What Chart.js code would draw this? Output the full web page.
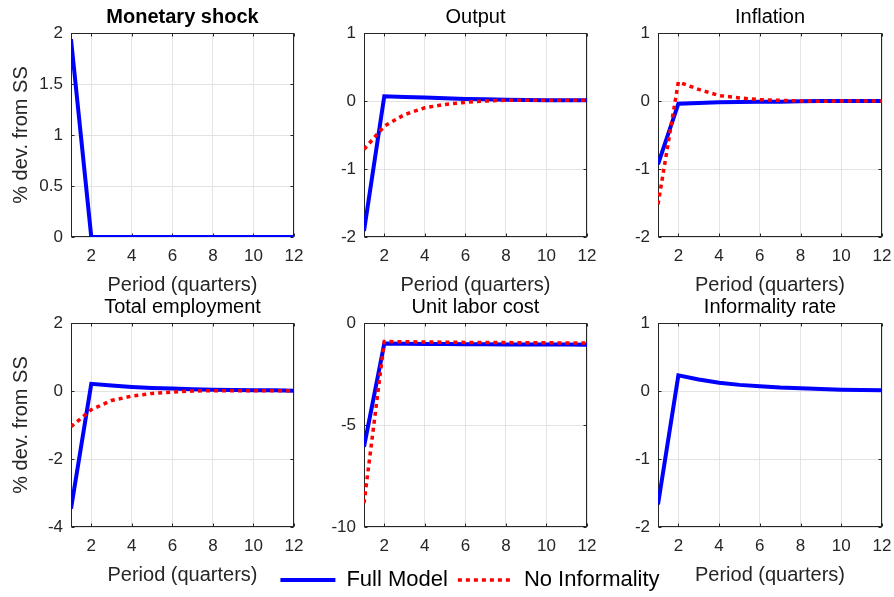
<!DOCTYPE html>
<html>
<head>
<meta charset="utf-8">
<script src="https://cdn.jsdelivr.net/npm/chart.js@4.4.0/dist/chart.umd.min.js"></script>
<style>
  html, body { margin: 0; padding: 0; background: #fff; overflow: hidden; }
  #wrap { position: relative; width: 894px; height: 597px; overflow: hidden; background: #fff; }
  .panel { position: absolute; }
</style>
</head>
<body>
<div id="wrap"></div>
<script>
// Периоды и подписи осей
const periods = [1, 2, 3, 4, 5, 6, 7, 8, 9, 10, 11, 12];
const xTicks = [2, 4, 6, 8, 10, 12];

// Monetary shock
const shockFull = [1.94, 0, 0, 0, 0, 0, 0, 0, 0, 0, 0, 0];
const shockTicks = [0, 0.5, 1, 1.5, 2];

// Output
const outputFull = [-1.91, 0.07, 0.06, 0.05, 0.04, 0.03, 0.025, 0.02, 0.015, 0.01, 0.01, 0.01];
const outputNoInf = [-0.71, -0.37, -0.20, -0.10, -0.05, -0.02, 0.0, 0.01, 0.01, 0.01, 0.01, 0.01];
const outputTicks = [-2, -1, 0, 1];

// Inflation
const inflFull = [-0.93, -0.04, -0.03, -0.02, -0.015, -0.01, -0.01, -0.005, 0, 0, 0, 0];
const inflNoInf = [-1.52, 0.28, 0.17, 0.08, 0.045, 0.02, 0.01, 0.0, -0.005, 0, 0, 0];
const inflTicks = [-2, -1, 0, 1];

// Total employment
const emplFull = [-3.46, 0.21, 0.16, 0.12, 0.09, 0.07, 0.05, 0.04, 0.03, 0.02, 0.02, 0.01];
const emplNoInf = [-1.05, -0.55, -0.28, -0.15, -0.07, -0.03, 0.0, 0.01, 0.01, 0.01, 0.01, 0.01];
const emplTicks = [-4, -2, 0, 2];

// Unit labor cost
const ulcFull = [-6.07, -1.01, -1.02, -1.03, -1.03, -1.04, -1.04, -1.05, -1.05, -1.06, -1.06, -1.07];
const ulcNoInf = [-8.83, -0.91, -0.92, -0.93, -0.94, -0.95, -0.96, -0.96, -0.97, -0.97, -0.98, -0.98];
const ulcTicks = [-10, -5, 0];

// Informality rate
const informFull = [-1.67, 0.23, 0.17, 0.12, 0.09, 0.07, 0.05, 0.04, 0.03, 0.02, 0.015, 0.01];
const informTicks = [-2, -1, 0, 1];

const seriesNames = ['Full Model', 'No Informality'];

// Стиль
const FONT = "'Liberation Sans', Arial, Helvetica, sans-serif";
const INK = '#262626';
const GRID = '#e3e3e3';
const BLUE = '#0000ff';
const RED = '#ff0000';

// Рамка осей и внутренние засечки (как в MATLAB)
const boxPlugin = {
    id: 'axesBox',
    beforeDatasetsDraw(chart) {
        const { ctx, chartArea: a, scales } = chart;
        const x = scales.x, y = scales.y;
        const l = Math.round(a.left) + 0.5, r = Math.round(a.right) - 0.5;
        const t = Math.round(a.top) + 0.5, b = Math.round(a.bottom) - 0.5;
        ctx.save();
        ctx.strokeStyle = INK;
        ctx.lineWidth = 1;
        ctx.strokeRect(l, t, r - l, b - t);
        ctx.beginPath();
        x.ticks.forEach(tk => {
            const px = Math.round(x.getPixelForValue(tk.value)) + 0.5;
            ctx.moveTo(px, b); ctx.lineTo(px, b - 3);
            ctx.moveTo(px, t); ctx.lineTo(px, t + 3);
        });
        y.ticks.forEach(tk => {
            const py = Math.round(y.getPixelForValue(tk.value)) + 0.5;
            ctx.moveTo(l, py); ctx.lineTo(l + 3, py);
            ctx.moveTo(r, py); ctx.lineTo(r - 3, py);
        });
        ctx.stroke();
        ctx.restore();
    }
};

const panels = [
    { title: 'Monetary shock', bold: true, left: 0, top: 0, width: 310, height: 300, yW: 71, rightW: 16,
      yLabel: true, xLabel: true, yMin: 0, yMax: 2, yTicks: shockTicks, full: shockFull, noInf: null },
    { title: 'Output', left: 300, top: 0, width: 310, height: 300, yW: 64, rightW: 23,
      xLabel: true, yMin: -2, yMax: 1, yTicks: outputTicks, full: outputFull, noInf: outputNoInf },
    { title: 'Inflation', left: 590, top: 0, width: 304, height: 300, yW: 68, rightW: 12,
      xLabel: true, yMin: -2, yMax: 1, yTicks: inflTicks, full: inflFull, noInf: inflNoInf },
    { title: 'Total employment', left: 0, top: 290, width: 310, height: 300, yW: 71, rightW: 16,
      yLabel: true, xLabel: true, yMin: -4, yMax: 2, yTicks: emplTicks, full: emplFull, noInf: emplNoInf },
    { title: 'Unit labor cost', left: 250, top: 290, width: 440, height: 311, yW: 114, rightW: 103,
      legend: true, xH: 32, yMin: -10, yMax: 0, yTicks: ulcTicks, full: ulcFull, noInf: ulcNoInf },
    { title: 'Informality rate', left: 590, top: 290, width: 304, height: 300, yW: 68, rightW: 12,
      xLabel: true, yMin: -2, yMax: 1, yTicks: informTicks, full: informFull, noInf: null }
];

function toPoints(values) {
    return periods.map((p, i) => ({ x: p, y: values[i] }));
}

function buildPanel(p, index) {
    const holder = document.createElement('div');
    holder.className = 'panel';
    holder.style.left = p.left + 'px';
    holder.style.top = p.top + 'px';
    const canvas = document.createElement('canvas');
    canvas.width = p.width;
    canvas.height = p.height;
    canvas.style.width = p.width + 'px';
    canvas.style.height = p.height + 'px';
    holder.appendChild(canvas);
    document.getElementById('wrap').appendChild(holder);

    const datasets = [{
        label: seriesNames[0],
        data: toPoints(p.full),
        borderColor: BLUE,
        backgroundColor: BLUE,
        borderWidth: 4,
        pointRadius: 0,
        tension: 0,
        order: 1
    }];
    if (p.noInf) {
        datasets.push({
            label: seriesNames[1],
            data: toPoints(p.noInf),
            borderColor: RED,
            backgroundColor: RED,
            borderWidth: 3.5,
            borderDash: [4, 4],
            pointRadius: 0,
            tension: 0,
            order: 0
        });
    }

    const legendOpts = p.legend ? {
        display: true,
        position: 'bottom',
        align: 'center',
        labels: {
            font: { family: FONT, size: 22 },
            color: '#000',
            usePointStyle: true,
            pointStyleWidth: 55,
            padding: 10,
            generateLabels: chart => chart.data.datasets.map((ds, i) => ({
                text: ds.label,
                fillStyle: ds.borderColor,
                strokeStyle: ds.borderColor,
                lineWidth: ds.borderWidth,
                lineDash: ds.borderDash || [],
                pointStyle: 'line',
                fontColor: '#000',
                hidden: false,
                datasetIndex: i
            }))
        }
    } : { display: false };

    new Chart(canvas, {
        type: 'line',
        data: { datasets: datasets },
        options: {
            responsive: false,
            animation: false,
            devicePixelRatio: 1,
            layout: { padding: 0 },
            plugins: {
                title: {
                    display: true,
                    text: p.title,
                    fullSize: false,
                    color: '#000',
                    font: { family: FONT, size: 20, weight: p.bold ? 'bold' : 'normal', lineHeight: 1.2 },
                    padding: { top: 5, bottom: 4 }
                },
                legend: legendOpts,
                tooltip: { enabled: false }
            },
            scales: {
                x: {
                    type: 'linear',
                    min: 1,
                    max: 12,
                    afterBuildTicks: s => { s.ticks = xTicks.map(v => ({ value: v })); },
                    afterFit: s => {
                        s.height = p.xH || 63;
                        s.paddingLeft = 0;
                        s.paddingRight = 0;
                    },
                    grid: { color: GRID, drawTicks: false },
                    border: { display: false },
                    ticks: {
                        padding: 9,
                        color: INK,
                        font: { family: FONT, size: 17 },
                        maxRotation: 0,
                        autoSkip: false,
                        callback: v => String(v)
                    },
                    title: {
                        display: !!p.xLabel,
                        text: 'Period (quarters)',
                        color: INK,
                        font: { family: FONT, size: 20, lineHeight: 1.2 },
                        padding: { top: 0, bottom: 3 }
                    }
                },
                y: {
                    type: 'linear',
                    min: p.yMin,
                    max: p.yMax,
                    afterBuildTicks: s => { s.ticks = p.yTicks.map(v => ({ value: v })); },
                    afterFit: s => {
                        s.width = p.yW;
                        s.paddingTop = 0;
                        s.paddingBottom = 0;
                    },
                    grid: { color: GRID, drawTicks: false },
                    border: { display: false },
                    ticks: {
                        padding: 8,
                        color: INK,
                        font: { family: FONT, size: 17 },
                        autoSkip: false,
                        callback: v => String(v)
                    },
                    title: {
                        display: !!p.yLabel,
                        text: '% dev. from SS',
                        color: INK,
                        font: { family: FONT, size: 20, lineHeight: 1.2 },
                        padding: { top: 9, bottom: 0 }
                    }
                },
                // пустая правая ось - задаёт отступ справа от области графика
                yRight: {
                    type: 'linear',
                    position: 'right',
                    min: 0,
                    max: 1,
                    grid: { display: false },
                    border: { display: false },
                    ticks: { display: false },
                    afterFit: s => {
                        s.width = p.rightW;
                        s.paddingTop = 0;
                        s.paddingBottom = 0;
                    }
                }
            }
        },
        plugins: [boxPlugin]
    });
}

panels.forEach(buildPanel);
</script>
</body>
</html>
